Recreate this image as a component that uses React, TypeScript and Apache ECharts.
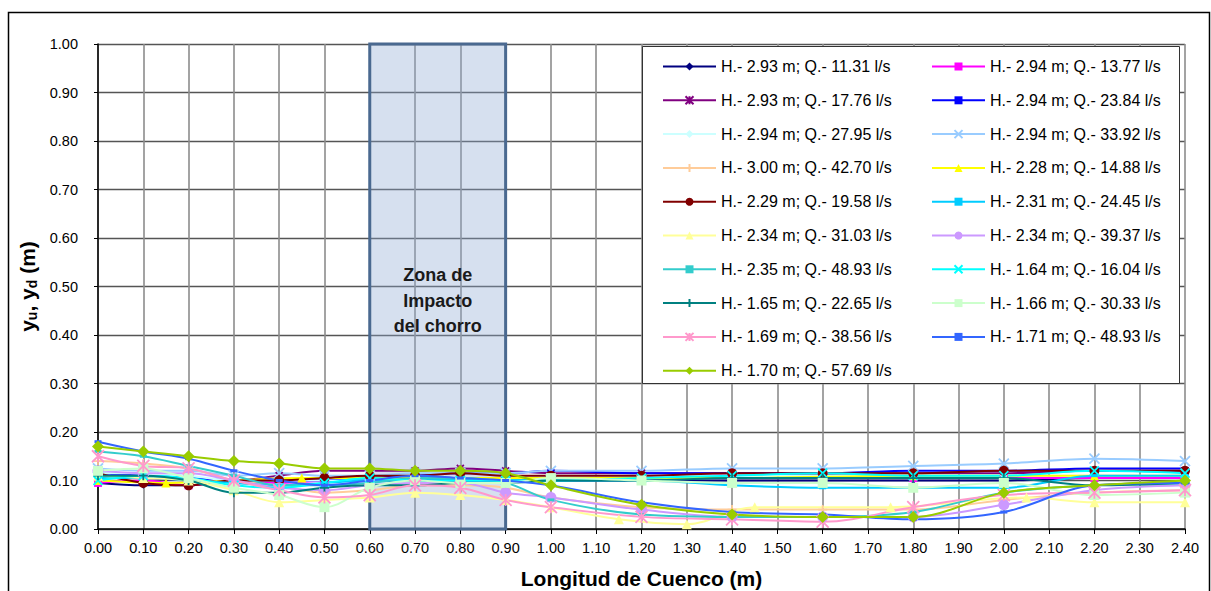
import React, { useEffect, useRef } from "react";
import * as echarts from "echarts";

// ---------- DATA ----------
const XS = [0, 0.1, 0.2, 0.3, 0.4, 0.5, 0.6, 0.7, 0.8, 0.9, 1.0, 1.2, 1.4, 1.6, 1.8, 2.0, 2.2, 2.4];

const s01 = [0.095, 0.09, 0.09, 0.10, 0.10, 0.10, 0.10, 0.10, 0.10, 0.10, 0.10, 0.10, 0.10, 0.10, 0.10, 0.10, 0.105, 0.105];
const s02 = [0.095, 0.10, 0.09, 0.10, 0.095, 0.10, 0.105, 0.105, 0.105, 0.105, 0.105, 0.105, 0.105, 0.105, 0.105, 0.105, 0.105, 0.105];
const s03 = [0.11, 0.105, 0.10, 0.10, 0.11, 0.12, 0.12, 0.12, 0.125, 0.12, 0.115, 0.115, 0.115, 0.115, 0.115, 0.115, 0.12, 0.12];
const s04 = [0.115, 0.11, 0.105, 0.10, 0.10, 0.10, 0.105, 0.11, 0.115, 0.115, 0.12, 0.115, 0.115, 0.115, 0.12, 0.12, 0.125, 0.125];
const s05 = [0.115, 0.115, 0.11, 0.10, 0.10, 0.10, 0.10, 0.105, 0.105, 0.105, 0.11, 0.11, 0.11, 0.11, 0.11, 0.11, 0.11, 0.11];
const s06 = [0.125, 0.12, 0.12, 0.11, 0.115, 0.11, 0.11, 0.115, 0.115, 0.115, 0.12, 0.12, 0.125, 0.125, 0.13, 0.135, 0.145, 0.14];
const s07 = [0.14, 0.135, 0.125, 0.10, 0.09, 0.075, 0.08, 0.09, 0.09, 0.085, 0.065, 0.045, 0.04, 0.04, 0.04, 0.06, 0.075, 0.08];
const s08x = [0, 0.15, 0.45, 1.0, 1.4, 1.8, 2.2, 2.4];
const s08 = [0.10, 0.095, 0.105, 0.105, 0.105, 0.11, 0.11, 0.11];
const s09 = [0.115, 0.095, 0.09, 0.10, 0.10, 0.105, 0.11, 0.11, 0.115, 0.11, 0.11, 0.11, 0.115, 0.115, 0.115, 0.12, 0.12, 0.12];
const s10 = [0.105, 0.105, 0.10, 0.095, 0.09, 0.095, 0.10, 0.10, 0.10, 0.10, 0.10, 0.10, 0.09, 0.085, 0.085, 0.085, 0.11, 0.11];
const s11x = [0, 0.1, 0.2, 0.3, 0.4, 0.5, 0.6, 0.7, 0.8, 0.9, 1.0, 1.15, 1.3, 1.45, 1.75, 2.05, 2.2, 2.4];
const s11 = [0.11, 0.105, 0.10, 0.08, 0.055, 0.06, 0.065, 0.075, 0.07, 0.06, 0.045, 0.02, 0.01, 0.045, 0.045, 0.065, 0.055, 0.055];
const s12 = [0.12, 0.115, 0.115, 0.10, 0.085, 0.08, 0.09, 0.095, 0.095, 0.075, 0.065, 0.04, 0.025, 0.025, 0.025, 0.05, 0.08, 0.09];
const s13 = [0.16, 0.15, 0.13, 0.11, 0.09, 0.09, 0.095, 0.105, 0.105, 0.095, 0.06, 0.03, 0.025, 0.025, 0.035, 0.075, 0.09, 0.095];
const s14 = [0.10, 0.11, 0.105, 0.09, 0.085, 0.095, 0.105, 0.10, 0.10, 0.10, 0.10, 0.105, 0.11, 0.115, 0.11, 0.11, 0.12, 0.115];
const s15 = [0.11, 0.11, 0.10, 0.075, 0.075, 0.085, 0.09, 0.09, 0.095, 0.095, 0.10, 0.10, 0.105, 0.105, 0.105, 0.105, 0.09, 0.095];
const s16 = [0.12, 0.125, 0.105, 0.085, 0.07, 0.045, 0.085, 0.10, 0.095, 0.095, 0.105, 0.10, 0.095, 0.095, 0.085, 0.095, 0.07, 0.075];
const s17 = [0.15, 0.13, 0.125, 0.10, 0.08, 0.065, 0.07, 0.09, 0.085, 0.06, 0.045, 0.025, 0.02, 0.015, 0.045, 0.07, 0.075, 0.08];
const s18 = [0.18, 0.16, 0.145, 0.12, 0.10, 0.09, 0.10, 0.11, 0.105, 0.10, 0.09, 0.055, 0.035, 0.03, 0.02, 0.035, 0.09, 0.095];
const s19 = [0.17, 0.16, 0.15, 0.14, 0.135, 0.125, 0.125, 0.12, 0.12, 0.115, 0.09, 0.05, 0.03, 0.025, 0.025, 0.075, 0.09, 0.10];

const NAMES = [
  "H.- 2.93 m; Q.- 11.31 l/s",
  "H.- 2.94 m; Q.- 13.77 l/s",
  "H.- 2.93 m; Q.- 17.76 l/s",
  "H.- 2.94 m; Q.- 23.84 l/s",
  "H.- 2.94 m; Q.- 27.95 l/s",
  "H.- 2.94 m; Q.- 33.92 l/s",
  "H.- 3.00 m; Q.- 42.70 l/s",
  "H.- 2.28 m; Q.- 14.88 l/s",
  "H.- 2.29 m; Q.- 19.58 l/s",
  "H.- 2.31 m; Q.- 24.45 l/s",
  "H.- 2.34 m; Q.- 31.03 l/s",
  "H.- 2.34 m; Q.- 39.37 l/s",
  "H.- 2.35 m; Q.- 48.93 l/s",
  "H.- 1.64 m; Q.- 16.04 l/s",
  "H.- 1.65 m; Q.- 22.65 l/s",
  "H.- 1.66 m; Q.- 30.33 l/s",
  "H.- 1.69 m; Q.- 38.56 l/s",
  "H.- 1.71 m; Q.- 48.93 l/s",
  "H.- 1.70 m; Q.- 57.69 l/s",
];

const ZONE_LABEL = "Zona de\nImpacto\ndel chorro";
const ZONE = [0.6, 0.9];

// ---------- STYLES ----------
const STAR = "path://M0,0L10,10M10,0L0,10M5,0L5,10";
const XMARK = "path://M0,0L10,10M10,0L0,10";
const PLUS = "path://M5,0L5,10M0,5L10,5";

type Sty = { color: string; symbol: string; size: any; stroke?: boolean };
const STYLES: Sty[] = [
  { color: "#000080", symbol: "diamond", size: 7 },
  { color: "#FF00FF", symbol: "rect", size: 8 },
  { color: "#800080", symbol: STAR, size: 7, stroke: true },
  { color: "#0000FF", symbol: "rect", size: [7, 3] },
  { color: "#CCFFFF", symbol: "diamond", size: 8 },
  { color: "#99CCFF", symbol: XMARK, size: 10, stroke: true },
  { color: "#FFCC99", symbol: PLUS, size: 9, stroke: true },
  { color: "#FFFF00", symbol: "triangle", size: 9 },
  { color: "#800000", symbol: "circle", size: 10 },
  { color: "#00CCFF", symbol: "rect", size: [7, 3] },
  { color: "#FFFF99", symbol: "triangle", size: 10 },
  { color: "#CC99FF", symbol: "circle", size: 11 },
  { color: "#33CCCC", symbol: "rect", size: [7, 3] },
  { color: "#00FFFF", symbol: XMARK, size: 9, stroke: true },
  { color: "#008080", symbol: PLUS, size: 9, stroke: true },
  { color: "#CCFFCC", symbol: "rect", size: 10 },
  { color: "#FF99CC", symbol: STAR, size: 12, stroke: true },
  { color: "#3366FF", symbol: "rect", size: [7, 3] },
  { color: "#99CC00", symbol: "diamond", size: 12 },
];

const SERIES_Y = [s01, s02, s03, s04, s05, s06, s07, s08, s09, s10, s11, s12, s13, s14, s15, s16, s17, s18, s19];
const SERIES_X = [XS, XS, XS, XS, XS, XS, XS, s08x, XS, XS, s11x, XS, XS, XS, XS, XS, XS, XS, XS];

const FONT = "'Liberation Sans', Arial, sans-serif";

export default function App() {
  const ref = useRef<HTMLDivElement>(null);
  useEffect(() => {
    if (!ref.current) return;
    const chart = echarts.init(ref.current, null, { renderer: "svg" });

    const lineSeries = SERIES_Y.map((ys, i) => {
      const st = STYLES[i];
      const xs = SERIES_X[i];
      return {
        name: NAMES[i],
        type: "line",
        smooth: 0.35,
        z: 3,
        data: ys.map((y, k) => [xs[k], y]),
        symbol: st.symbol,
        symbolSize: st.size,
        lineStyle: { color: st.color, width: 2 },
        itemStyle: st.stroke
          ? { color: st.color, borderColor: st.color, borderWidth: 1.8 }
          : { color: st.color, borderWidth: 0 },
      };
    });

    const zoneSeries = {
      name: "zone",
      type: "line",
      z: 1,
      data: [[ZONE[0], 0]],
      symbol: "none",
      lineStyle: { opacity: 0 },
      markArea: {
        silent: true,
        itemStyle: {
          color: "rgba(140,170,210,0.36)",
          borderColor: "#4A6990",
          borderWidth: 3,
        },
        label: {
          show: true,
          position: "inside",
          offset: [0, 14],
          color: "#1a1a1a",
          fontFamily: FONT,
          fontWeight: "bold",
          fontSize: 18,
          lineHeight: 25.5,
          align: "center",
        },
        data: [[{ name: ZONE_LABEL, xAxis: ZONE[0], yAxis: 0 }, { xAxis: ZONE[1], yAxis: 1 }]],
      },
    };

    const col1 = NAMES.filter((_, i) => i % 2 === 0);
    const col2 = NAMES.filter((_, i) => i % 2 === 1);
    const legendBase = {
      orient: "vertical",
      top: 58.5,
      padding: 0,
      itemWidth: 53,
      itemHeight: 10,
      itemGap: 17.8,
      textStyle: { fontFamily: FONT, fontSize: 16, color: "#000", lineHeight: 16 },
    };

    chart.setOption({
      animation: false,
      textStyle: { fontFamily: FONT },
      grid: { left: 98, right: 26, top: 44, bottom: 62, containLabel: false, outerBoundsMode: "none" },
      legend: [
        { ...legendBase, left: 662, data: col1 },
        { ...legendBase, left: 931, data: col2 },
      ],
      xAxis: {
        type: "value",
        min: 0,
        max: 2.4,
        interval: 0.1,
        name: "Longitud de Cuenco (m)",
        nameLocation: "middle",
        nameGap: 39,
        nameTextStyle: { fontFamily: FONT, fontWeight: "bold", fontSize: 21, color: "#000" },
        axisLine: { show: true, onZero: false, lineStyle: { color: "#000", width: 1.5 } },
        axisTick: { show: true, inside: false, length: 5, lineStyle: { color: "#000" } },
        axisLabel: {
          color: "#000",
          fontSize: 14.5,
          margin: 11,
          formatter: (v: number) => v.toFixed(2),
        },
        splitLine: { show: true, lineStyle: { color: "#8c8c8c", width: 1.6 } },
      },
      yAxis: {
        type: "value",
        min: 0,
        max: 1,
        interval: 0.1,
        name: "{a|y}{s|u}{a|, y}{s|d}{a| (m)}",
        nameLocation: "middle",
        nameGap: 56,
        nameTextStyle: {
          rich: {
            a: { fontFamily: FONT, fontWeight: "bold", fontSize: 21, color: "#000", lineHeight: 26 },
            s: { fontFamily: FONT, fontWeight: "bold", fontSize: 14, color: "#000", lineHeight: 26, padding: [9, 0, 0, 0] },
          },
        },
        axisLine: { show: true, onZero: false, lineStyle: { color: "#000", width: 1.5 } },
        axisTick: { show: true, inside: false, length: 4, lineStyle: { color: "#000" } },
        axisLabel: {
          color: "#000",
          fontSize: 14.5,
          margin: 20,
          formatter: (v: number) => v.toFixed(2),
        },
        splitLine: { show: true, lineStyle: { color: "#555", width: 1.4 } },
      },
      graphic: [
        {
          type: "rect",
          z: 3,
          shape: { x: 642.5, y: 46.5, width: 537, height: 337 },
          style: { fill: "#fff", stroke: "#333", lineWidth: 1 },
        },
        {
          type: "rect",
          z: 10,
          shape: { x: 8.5, y: 12.5, width: 1201, height: 600 },
          style: { fill: "none", stroke: "#000", lineWidth: 1.5 },
        },
      ],
      series: [zoneSeries, ...lineSeries],
    });

    return () => chart.dispose();
  }, []);

  return (
    <div
      ref={ref}
      style={{ position: "absolute", left: 0, top: 0, width: 1211, height: 591, background: "#fff" }}
    />
  );
}
